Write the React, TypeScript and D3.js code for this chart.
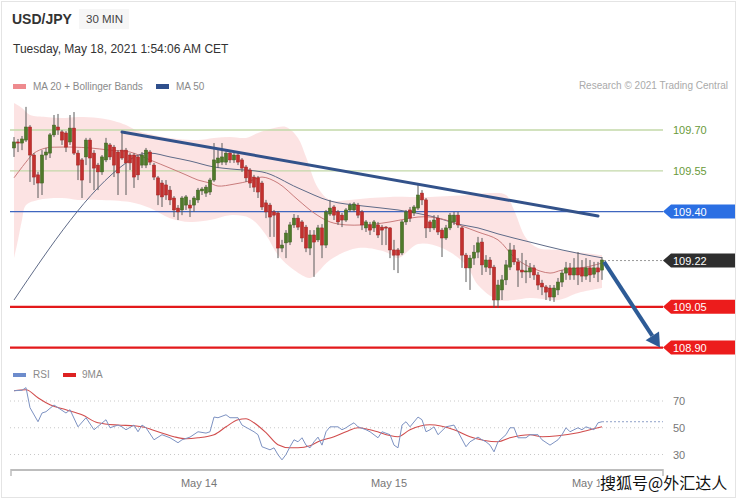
import React from 'react';
import * as d3 from 'd3';

// ---------- candle data (30 min, index 0..147) ----------
const opens = [
  109.634, 109.656, 109.652, 109.663, 109.711, 109.608, 109.535, 109.505, 109.608, 109.615,
  109.682, 109.711, 109.693, 109.689, 109.656, 109.707, 109.615, 109.590, 109.601, 109.663,
  109.615, 109.571, 109.546, 109.590, 109.645, 109.637, 109.619, 109.626, 109.626, 109.608,
  109.608, 109.601, 109.571, 109.571, 109.619, 109.571, 109.524, 109.505, 109.498, 109.479,
  109.450, 109.413, 109.406, 109.424, 109.424, 109.424, 109.443, 109.476, 109.468, 109.472,
  109.516, 109.579, 109.582, 109.582, 109.615, 109.590, 109.608, 109.590, 109.564, 109.553,
  109.527, 109.524, 109.505, 109.432, 109.424, 109.399, 109.395, 109.266, 109.285, 109.288,
  109.351, 109.376, 109.362, 109.343, 109.266, 109.314, 109.296, 109.340, 109.277, 109.391,
  109.417, 109.399, 109.387, 109.369, 109.406, 109.406, 109.424, 109.399, 109.340, 109.351,
  109.340, 109.351, 109.343, 109.343, 109.340, 109.259, 109.259, 109.248, 109.362, 109.406,
  109.395, 109.413, 109.468, 109.443, 109.362, 109.340, 109.376, 109.332, 109.303, 109.340,
  109.362, 109.387, 109.340, 109.240, 109.193, 109.229, 109.251, 109.288, 109.196, 109.222,
  109.196, 109.075, 109.112, 109.149, 109.196, 109.259, 109.215, 109.185, 109.178, 109.178,
  109.193, 109.167, 109.137, 109.123, 109.119, 109.086, 109.112, 109.141, 109.174, 109.193,
  109.167, 109.193, 109.193, 109.163, 109.193, 109.170, 109.193, 109.185,
];
const highs = [
  109.674, 109.667, 109.678, 109.785, 109.718, 109.615, 109.546, 109.626, 109.634, 109.689,
  109.755, 109.759, 109.700, 109.696, 109.755, 109.766, 109.626, 109.597, 109.671, 109.671,
  109.626, 109.579, 109.608, 109.671, 109.652, 109.645, 109.626, 109.693, 109.634, 109.615,
  109.615, 109.608, 109.619, 109.634, 109.626, 109.579, 109.531, 109.516, 109.516, 109.494,
  109.457, 109.424, 109.457, 109.461, 109.443, 109.457, 109.487, 109.490, 109.498, 109.524,
  109.652, 109.626, 109.652, 109.626, 109.626, 109.619, 109.619, 109.597, 109.571, 109.560,
  109.535, 109.531, 109.513, 109.443, 109.432, 109.406, 109.402, 109.296, 109.332, 109.362,
  109.391, 109.387, 109.369, 109.351, 109.332, 109.332, 109.351, 109.354, 109.406, 109.443,
  109.424, 109.406, 109.395, 109.413, 109.432, 109.435, 109.432, 109.406, 109.369, 109.362,
  109.369, 109.362, 109.351, 109.347, 109.343, 109.296, 109.266, 109.369, 109.406, 109.417,
  109.424, 109.498, 109.479, 109.450, 109.369, 109.387, 109.387, 109.340, 109.351, 109.395,
  109.399, 109.399, 109.347, 109.248, 109.240, 109.277, 109.307, 109.303, 109.240, 109.233,
  109.204, 109.149, 109.167, 109.222, 109.285, 109.277, 109.229, 109.248, 109.222, 109.211,
  109.204, 109.178, 109.149, 109.130, 109.130, 109.130, 109.156, 109.185, 109.215, 109.211,
  109.229, 109.251, 109.222, 109.229, 109.222, 109.215, 109.215, 109.233,
];
const lows = [
  109.601, 109.619, 109.626, 109.656, 109.509, 109.498, 109.450, 109.461, 109.590, 109.597,
  109.674, 109.682, 109.645, 109.619, 109.645, 109.608, 109.516, 109.450, 109.571, 109.505,
  109.479, 109.479, 109.535, 109.582, 109.590, 109.527, 109.461, 109.590, 109.461, 109.553,
  109.487, 109.516, 109.560, 109.560, 109.571, 109.516, 109.424, 109.417, 109.443, 109.424,
  109.380, 109.369, 109.387, 109.406, 109.380, 109.399, 109.432, 109.461, 109.454, 109.461,
  109.509, 109.560, 109.571, 109.571, 109.579, 109.579, 109.571, 109.546, 109.509, 109.487,
  109.472, 109.450, 109.406, 109.376, 109.307, 109.307, 109.229, 109.251, 109.229, 109.277,
  109.340, 109.332, 109.288, 109.251, 109.240, 109.160, 109.288, 109.229, 109.266, 109.384,
  109.369, 109.351, 109.343, 109.362, 109.399, 109.399, 109.376, 109.332, 109.325, 109.314,
  109.325, 109.303, 109.277, 109.277, 109.229, 109.185, 109.174, 109.240, 109.351, 109.362,
  109.384, 109.406, 109.424, 109.303, 109.325, 109.332, 109.314, 109.233, 109.296, 109.332,
  109.351, 109.340, 109.193, 109.141, 109.112, 109.204, 109.229, 109.167, 109.178, 109.167,
  109.046, 109.046, 109.075, 109.130, 109.185, 109.204, 109.123, 109.156, 109.137, 109.156,
  109.149, 109.112, 109.093, 109.075, 109.071, 109.068, 109.093, 109.123, 109.149, 109.149,
  109.149, 109.130, 109.141, 109.149, 109.141, 109.156, 109.141, 109.149,
];
const closes = [
  109.656, 109.652, 109.667, 109.711, 109.608, 109.527, 109.505, 109.608, 109.619, 109.682,
  109.718, 109.700, 109.663, 109.637, 109.707, 109.615, 109.571, 109.516, 109.663, 109.597,
  109.560, 109.546, 109.601, 109.652, 109.601, 109.571, 109.542, 109.597, 109.579, 109.579,
  109.527, 109.535, 109.608, 109.626, 109.582, 109.527, 109.461, 109.454, 109.461, 109.443,
  109.406, 109.399, 109.450, 109.454, 109.413, 109.450, 109.479, 109.483, 109.490, 109.516,
  109.590, 109.597, 109.601, 109.615, 109.590, 109.608, 109.582, 109.560, 109.524, 109.505,
  109.490, 109.472, 109.417, 109.399, 109.380, 109.387, 109.266, 109.277, 109.321, 109.351,
  109.376, 109.343, 109.303, 109.266, 109.314, 109.288, 109.340, 109.277, 109.399, 109.413,
  109.387, 109.362, 109.369, 109.406, 109.424, 109.428, 109.387, 109.351, 109.362, 109.332,
  109.362, 109.314, 109.332, 109.340, 109.259, 109.240, 109.240, 109.362, 109.399, 109.376,
  109.417, 109.461, 109.443, 109.340, 109.340, 109.369, 109.325, 109.303, 109.340, 109.387,
  109.387, 109.351, 109.240, 109.193, 109.229, 109.251, 109.285, 109.204, 109.222, 109.193,
  109.075, 109.130, 109.149, 109.204, 109.259, 109.215, 109.185, 109.178, 109.182, 109.193,
  109.167, 109.130, 109.123, 109.104, 109.086, 109.119, 109.141, 109.174, 109.193, 109.167,
  109.193, 109.167, 109.163, 109.193, 109.167, 109.193, 109.178, 109.222,
];

// ---------- indicators (index, value) ----------
const bbUpperIdx = [0, 2, 4, 8, 12, 16, 21, 25, 28, 31, 36, 41, 46, 50, 54, 58, 61, 65, 68, 71, 73, 76, 79, 84, 89, 94, 99, 104, 109, 114, 119, 123, 125, 128, 131, 136, 141, 147];
const bbUpper = [109.799, 109.781, 109.755, 109.748, 109.744, 109.748, 109.744, 109.733, 109.718, 109.696, 109.678, 109.667, 109.663, 109.671, 109.674, 109.671, 109.689, 109.707, 109.711, 109.671, 109.601, 109.487, 109.443, 109.443, 109.450, 109.454, 109.454, 109.454, 109.457, 109.461, 109.468, 109.461, 109.406, 109.303, 109.266, 109.259, 109.251, 109.240];
const bbLowerIdx = [0, 1, 2, 3, 6, 12, 16, 21, 29, 34, 39, 44, 49, 54, 59, 63, 66, 70, 74, 76, 79, 86, 93, 96, 101, 107, 113, 116, 121, 125, 129, 136, 141, 147];
const bbLower = [109.229, 109.296, 109.369, 109.424, 109.443, 109.450, 109.443, 109.443, 109.435, 109.413, 109.376, 109.362, 109.369, 109.387, 109.376, 109.314, 109.240, 109.185, 109.156, 109.178, 109.222, 109.266, 109.251, 109.229, 109.281, 109.266, 109.204, 109.130, 109.075, 109.075, 109.082, 109.075, 109.101, 109.119];
const ma20Idx = [0, 3, 5, 8, 11, 15, 19, 24, 29, 34, 39, 43, 46, 49, 51, 55, 59, 62, 66, 71, 75, 79, 83, 87, 90, 94, 98, 101, 104, 108, 112, 116, 121, 125, 129, 134, 137, 143, 147];
const ma20 = [109.524, 109.582, 109.615, 109.634, 109.637, 109.637, 109.634, 109.626, 109.619, 109.590, 109.560, 109.535, 109.516, 109.505, 109.494, 109.501, 109.513, 109.527, 109.505, 109.443, 109.395, 109.362, 109.351, 109.351, 109.354, 109.362, 109.373, 109.380, 109.380, 109.369, 109.347, 109.325, 109.296, 109.233, 109.196, 109.174, 109.185, 109.196, 109.211];
const ma50Idx = [0, 28, 31, 34, 39, 44, 50, 54, 62, 71, 79, 87, 96, 104, 112, 116, 121, 129, 137, 147];
const ma50 = [109.075, 109.579, 109.608, 109.615, 109.601, 109.586, 109.564, 109.557, 109.546, 109.487, 109.439, 109.421, 109.406, 109.384, 109.351, 109.340, 109.318, 109.288, 109.259, 109.230];

const rsiIdx = [0, 2, 3, 4, 6, 7, 8, 10, 11, 13, 14, 16, 18, 20, 23, 24, 26, 27, 28, 30, 31, 32, 33, 35, 37, 39, 41, 42, 44, 46, 48, 49, 50, 51, 53, 54, 56, 57, 60, 61, 62, 64, 65, 66, 67, 68, 69, 70, 71, 72, 73, 74, 75, 76, 77, 78, 79, 81, 82, 83, 84, 85, 86, 88, 89, 91, 92, 94, 95, 96, 97, 98, 99, 101, 102, 103, 104, 105, 106, 108, 110, 111, 113, 114, 116, 117, 118, 119, 120, 121, 123, 124, 125, 126, 127, 128, 129, 131, 132, 134, 136, 137, 138, 139, 141, 142, 143, 145, 146, 147];
const rsi = [77.7, 78, 80, 65, 54.5, 61, 62, 67, 65, 61, 63.5, 50.7, 57.5, 48.5, 56, 50, 52, 50.7, 48.5, 52, 47, 52, 50, 41, 44.8, 42.5, 38.8, 41, 43, 47, 46, 47, 58, 57.5, 59.7, 57.5, 57.5, 52, 47, 44.8, 35.8, 33.5, 35, 29.8, 26, 30, 35.8, 41, 39.5, 42.5, 37, 35, 39.5, 43, 37, 47, 50.7, 50.7, 48.5, 50, 52, 53.7, 50.7, 48.5, 47, 42.5, 47, 44.8, 37, 35, 52, 54.5, 50.7, 58, 56, 47, 48.5, 50.7, 44.8, 50.7, 52, 47, 35.8, 39.5, 43, 41, 39.5, 37, 32, 39.5, 44.8, 50, 50, 42.5, 42.5, 42.5, 44.8, 44.8, 41, 37, 41, 44.8, 50, 47, 50, 48.5, 50.7, 48.5, 53.7, 54.5];
const rsiMaIdx = [0, 3, 6, 9, 13, 17, 21, 26, 30, 32, 36, 40, 43, 46, 50, 53, 56, 58, 60, 63, 66, 69, 71, 74, 76, 80, 83, 86, 89, 96, 99, 104, 110, 114, 121, 124, 129, 132, 136, 141, 146, 147];
const rsiMa = [77.7, 78.4, 72.4, 67.2, 63.5, 59.7, 53.7, 52, 51.5, 50.7, 47, 43.3, 41.8, 42.5, 44.8, 50.7, 56, 56.7, 53.7, 46.3, 37.3, 35, 35, 36.5, 39.5, 43.3, 47, 50, 48.5, 43.3, 48.5, 52.2, 48.5, 43.3, 39.5, 42.5, 44.8, 43.3, 44, 46.3, 50, 50.7];

// ---------- levels, trend, axis labels ----------
const levelPrices = [109.70, 109.55, 109.40, 109.22, 109.05, 108.90];
const levelLabels = ['109.70', '109.55', '109.40', '109.22', '109.05', '108.90'];
const levelKinds = ['target', 'target', 'pivot', 'last', 'support', 'support'];
const trendIdx = [27, 146];
const trendPrice = [109.693, 109.384];
const arrowIdx = [147, 161.5];
const arrowPrice = [109.215, 108.90];
const dateLabels = ['May 14', 'May 15', 'May 18'];
const dateIdx = [46.25, 93.75, 144];
const rsiGrid = [70, 50, 30];

const FONT = "'Liberation Sans', Arial, Helvetica, sans-serif";

export default function App() {
  const xs = d3.scaleLinear().domain([0, 147]).range([14, 602]);
  const ys = d3.scaleLinear().domain([108.9, 109.7]).range([347.6, 130]);
  const yr = d3.scaleLinear().domain([30, 70]).range([454.5, 401]);
  const xLeft = 10;
  const xRight = 663;

  const mk = (idx: number[], yf: (v: number) => number, curve: any) =>
    d3.line<number>().x((_, k) => xs(idx[k])).y((v) => yf(v)).curve(curve);

  const upperPath = mk(bbUpperIdx, ys, d3.curveCatmullRom)(bbUpper) || '';
  const lowerRevIdx = [...bbLowerIdx].reverse();
  const lowerRevPath = mk(lowerRevIdx, ys, d3.curveCatmullRom)([...bbLower].reverse()) || '';
  const bandPath = upperPath + 'L' + lowerRevPath.slice(1) + 'Z';

  const ma20Path = mk(ma20Idx, ys, d3.curveCatmullRom)(ma20) || '';
  const ma50Path = mk(ma50Idx, ys, d3.curveMonotoneX)(ma50) || '';
  const rsiPath = mk(rsiIdx, yr, d3.curveLinear)(rsi) || '';
  const rsiMaPath = mk(rsiMaIdx, yr, d3.curveMonotoneX)(rsiMa) || '';

  const styles: Record<string, any> = {
    target: { line: '#c3d8a9', w: 1.3, text: '#6a9a3a', tag: null },
    pivot: { line: '#3f66bf', w: 1.3, text: '#ffffff', tag: '#2b6fe3' },
    last: { line: '#9a9a9a', w: 1, text: '#ffffff', tag: '#2e2e2e', dash: '2,2' },
    support: { line: '#e3191b', w: 2.2, text: '#ffffff', tag: '#ec1c1c' },
  };

  const ax0 = xs(arrowIdx[0]) + 2, ay0 = ys(arrowPrice[0]);
  const ax1 = xs(arrowIdx[1]), ay1 = ys(arrowPrice[1]);
  const ang = Math.atan2(ay1 - ay0, ax1 - ax0);
  const headLen = 14, headW = 8;
  const bx = ax1 - headLen * Math.cos(ang), by = ay1 - headLen * Math.sin(ang);
  const px = -Math.sin(ang), py = Math.cos(ang);
  const head = `M${ax1},${ay1}L${bx + px * headW},${by + py * headW}L${bx - px * headW},${by - py * headW}Z`;

  const lastI = closes.length - 1;
  const rsiLast = rsi[rsi.length - 1];

  return (
    <svg width={738} height={500} style={{ position: 'absolute', left: 0, top: 0, background: '#fff' }} fontFamily={FONT}>
      <rect x={1.5} y={1.5} width={734} height={496} fill="#fff" stroke="#e4e4e4" />
      {/* header */}
      <text x={12} y={24} fontSize={14} fontWeight="bold" fill="#333">USD/JPY</text>
      <rect x={79} y={9} width={50} height={20} fill="#f6f6f6" />
      <text x={86} y={23} fontSize={11.5} fill="#444">30 MIN</text>
      <text x={13} y={53} fontSize={12} fill="#333">Tuesday, May 18, 2021 1:54:06 AM CET</text>

      {/* legend */}
      <rect x={13} y={84} width={13} height={5} fill="#ee8a8e" />
      <text x={33} y={90} fontSize={10} fill="#8a8a8a">MA 20 + Bollinger Bands</text>
      <rect x={156} y={84} width={13} height={5} fill="#2f4f8c" />
      <text x={176} y={90} fontSize={10} fill="#8a8a8a">MA 50</text>
      <text x={728} y={89} fontSize={10} fill="#aaaaaa" textAnchor="end">Research © 2021 Trading Central</text>

      {/* bollinger band */}
      <path d={bandPath} fill="#fbdede" opacity={0.85} />

      {/* level lines */}
      {levelPrices.map((p, k) => {
        const s = styles[levelKinds[k]];
        const y = ys(p);
        const x0 = levelKinds[k] === 'last' ? xs(lastI) + 2 : xLeft;
        return (
          <line key={'l' + k} x1={x0} x2={xRight} y1={y} y2={y} stroke={s.line} strokeWidth={s.w} strokeDasharray={s.dash || undefined} />
        );
      })}

      {/* moving averages */}
      <path d={ma50Path} fill="none" stroke="#5f6b88" strokeWidth={1} />
      <path d={ma20Path} fill="none" stroke="#c97c7c" strokeWidth={1} />

      {/* candles */}
      {closes.map((c, i) => {
        const o = opens[i];
        const up = c >= o;
        const x = xs(i);
        const yTop = ys(Math.max(o, c));
        const yBot = ys(Math.min(o, c));
        return (
          <g key={'c' + i}>
            <line x1={x} x2={x} y1={ys(highs[i])} y2={ys(lows[i])} stroke="#5a5a5a" strokeWidth={1} />
            <rect x={x - 1.6} y={yTop} width={3.2} height={Math.max(1, yBot - yTop)} fill={up ? '#4f7a2a' : '#c3302e'} stroke={up ? '#3e6120' : '#a02424'} strokeWidth={0.5} />
          </g>
        );
      })}

      {/* trend line */}
      <line x1={xs(trendIdx[0])} y1={ys(trendPrice[0])} x2={xs(trendIdx[1])} y2={ys(trendPrice[1])} stroke="#33528a" strokeWidth={3} strokeLinecap="round" />

      {/* arrow */}
      <line x1={ax0} y1={ay0} x2={bx} y2={by} stroke="#2d5b96" strokeWidth={4} />
      <path d={head} fill="#2d5b96" />

      {/* level labels */}
      {levelPrices.map((p, k) => {
        const s = styles[levelKinds[k]];
        const y = ys(p);
        if (!s.tag) {
          return <text key={'t' + k} x={673} y={y + 4} fontSize={11} fill={s.text}>{levelLabels[k]}</text>;
        }
        const h = 7;
        return (
          <g key={'t' + k}>
            <path d={`M${xRight},${y}L${xRight + 8},${y - h}L735,${y - h}L735,${y + h}L${xRight + 8},${y + h}Z`} fill={s.tag} />
            <text x={673} y={y + 4} fontSize={11} fill={s.text}>{levelLabels[k]}</text>
          </g>
        );
      })}

      {/* RSI panel */}
      <rect x={13} y={373} width={13} height={4} fill="#6d8ccc" />
      <text x={33} y={378} fontSize={10} fill="#8a8a8a">RSI</text>
      <rect x={63} y={373} width={13} height={4} fill="#dd2222" />
      <text x={82} y={378} fontSize={10} fill="#8a8a8a">9MA</text>
      {rsiGrid.map((v) => (
        <g key={'g' + v}>
          <line x1={xLeft} x2={xRight} y1={yr(v)} y2={yr(v)} stroke="#c8c8c8" strokeDasharray="1,3" />
          <text x={673} y={yr(v) + 4} fontSize={11} fill="#777">{v}</text>
        </g>
      ))}
      <line x1={xs(lastI)} x2={xRight} y1={yr(rsiLast)} y2={yr(rsiLast)} stroke="#8fa0c8" strokeDasharray="2,2" />
      <path d={rsiMaPath} fill="none" stroke="#cc3a3a" strokeWidth={1.1} opacity={0.9} />
      <path d={rsiPath} fill="none" stroke="#7d92c2" strokeWidth={1} />

      {/* time axis */}
      <line x1={11} x2={xRight} y1={470} y2={470} stroke="#bdbdbd" strokeWidth={2} />
      <line x1={11} x2={11} y1={469} y2={476} stroke="#bdbdbd" strokeWidth={1.5} />
      <line x1={xRight} x2={xRight} y1={469} y2={476} stroke="#bdbdbd" strokeWidth={1.5} />
      {dateLabels.map((d, k) => (
        <text key={'d' + k} x={xs(dateIdx[k])} y={487} fontSize={11} fill="#777" textAnchor="middle">{d}</text>
      ))}

      {/* watermark */}
      <text x={600} y={489} fontSize={16} fontFamily="'Noto Sans CJK SC', sans-serif" fill="#111" stroke="#fff" strokeWidth={3} paintOrder="stroke" strokeLinejoin="round">搜狐号@外汇达人</text>
    </svg>
  );
}
